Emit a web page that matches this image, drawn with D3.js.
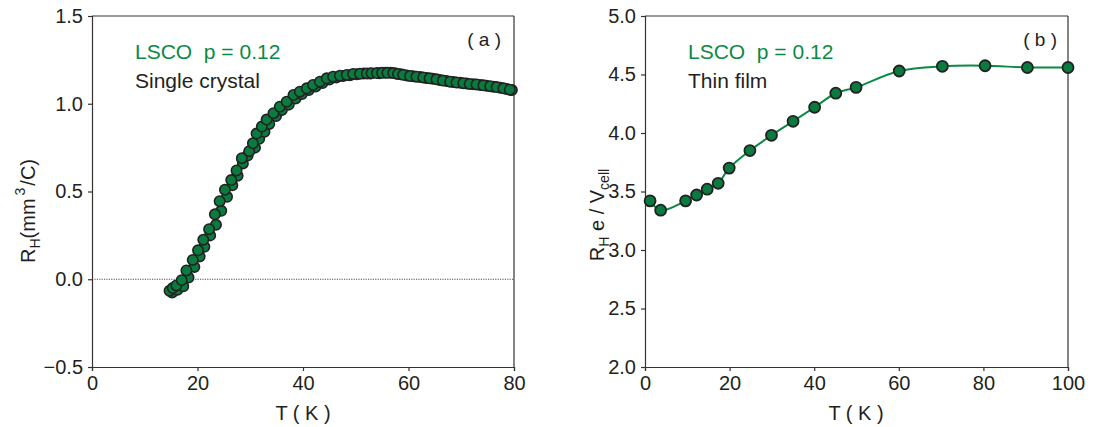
<!DOCTYPE html>
<html><head><meta charset="utf-8">
<script src="https://cdn.jsdelivr.net/npm/d3@7"></script>
<style>
body{margin:0;background:#fff;}
text{font-family:"Liberation Sans",Arial,sans-serif;fill:#231f20;}
</style></head><body>
<svg id="c" width="1094" height="427"></svg>
<script>
// Panel (a): single crystal, two overlapping sweeps
const tempA1 = [14.7,15.3,16.0,17.0,17.9,19.1,20.1,21.1,22.2,23.3,24.2,25.2,26.4,27.4,28.4,29.8,30.5,31.2,32.2,33.1,34.4,35.6,36.9,38.2,39.4,40.7,41.9,43.2,44.5,45.7,47.0,48.3,49.5,50.8,52.1,53.0,54.0,55.0,56.0,57.1,58.0,59.0,60.3,61.5,62.8,64.0,65.3,66.5,67.9,69.1,70.4,71.6,72.9,74.2,75.5,76.7,78.0,79.2];
const rhA1  = [-0.065,-0.05,-0.035,-0.005,0.05,0.11,0.165,0.225,0.285,0.37,0.445,0.51,0.565,0.62,0.69,0.73,0.775,0.83,0.87,0.91,0.946,0.983,1.012,1.05,1.069,1.088,1.107,1.126,1.145,1.154,1.16,1.164,1.17,1.171,1.173,1.174,1.175,1.176,1.176,1.175,1.17,1.165,1.158,1.154,1.15,1.145,1.139,1.132,1.126,1.121,1.117,1.113,1.11,1.105,1.10,1.095,1.088,1.08];
const tempA2 = [15.2,16.2,17.3,18.3,19.4,20.4,21.3,22.4,23.5,24.5,25.6,26.6,27.6,28.6,29.5,30.9,31.7,32.7,33.6,34.9,36.0,37.3,38.6,39.8,41.1,42.4,43.7,45.0,46.3,47.6,48.9,50.2,51.5,52.7,54.5,55.6,56.6,57.6,58.5,59.7,60.9,62.2,63.4,64.6,65.9,67.2,68.5,69.8,71.0,72.3,73.6,74.8,76.1,77.4,78.6,79.6];
const rhA2  = [-0.075,-0.06,-0.04,0.01,0.07,0.13,0.185,0.25,0.31,0.39,0.47,0.535,0.59,0.66,0.705,0.75,0.80,0.84,0.885,0.93,0.965,0.995,1.03,1.055,1.078,1.098,1.118,1.138,1.15,1.158,1.163,1.168,1.172,1.173,1.174,1.176,1.176,1.173,1.168,1.161,1.156,1.152,1.147,1.142,1.135,1.129,1.124,1.119,1.115,1.111,1.107,1.102,1.097,1.091,1.084,1.078];
const xTicksA = [0,20,40,60,80];
const yTicksA = [-0.5,0.0,0.5,1.0,1.5];

// Panel (b): thin film
const tempB = [1.2,3.7,9.6,12.2,14.7,17.3,19.9,24.8,29.9,35.0,40.1,45.1,49.9,60.1,70.3,80.4,90.4,100];
const rhB   = [3.42,3.34,3.42,3.47,3.52,3.57,3.70,3.85,3.98,4.10,4.22,4.34,4.39,4.53,4.57,4.575,4.56,4.56];
const xTicksB = [0,20,40,60,80,100];
const yTicksB = [2.0,2.5,3.0,3.5,4.0,4.5,5.0];

const GREEN = "#0b8a45", DOT = "#0a7b3e", EDGE = "#222";
const svg = d3.select("#c");
const plotTop = 16, plotBottom = 367;

function frame(g, x, y, xt, yt, yfmt){
  const ax = g.append("g").attr("transform",`translate(0,${plotBottom})`)
    .call(d3.axisBottom(x).tickValues(xt).tickSize(4).tickPadding(5).tickFormat(d3.format("d")));
  const ay = g.append("g").attr("transform",`translate(${x.range()[0]},0)`)
    .call(d3.axisLeft(y).tickValues(yt).tickSize(4).tickPadding(5).tickFormat(yfmt));
  [ax,ay].forEach(a=>{
    a.selectAll("path,line").attr("stroke","#333").attr("stroke-width",1.2);
    a.selectAll("text").style("font-size","20px").attr("fill","#231f20");
  });
  g.append("line").attr("x1",x.range()[0]).attr("x2",x.range()[1]).attr("y1",plotTop).attr("y2",plotTop).attr("stroke","#333").attr("stroke-width",1.2);
  g.append("line").attr("x1",x.range()[1]).attr("x2",x.range()[1]).attr("y1",plotTop).attr("y2",plotBottom).attr("stroke","#333").attr("stroke-width",1.2);
}
const minus = d => (d<0?"\u2212":"") + d3.format(".1f")(Math.abs(d));

// ---- Panel a
const xa = d3.scaleLinear().domain([0,80]).range([92,514]);
const ya = d3.scaleLinear().domain([-0.5,1.5]).range([plotBottom,plotTop]);
const ga = svg.append("g");
ga.append("line").attr("x1",xa(0)).attr("x2",xa(80)).attr("y1",ya(0)).attr("y2",ya(0))
  .attr("stroke","#222").attr("stroke-width",0.8).attr("stroke-dasharray","1.2,1.2");
frame(ga, xa, ya, xTicksA, yTicksA, minus);
const ptsA = tempA2.map((t,i)=>[t,rhA2[i]]).concat(tempA1.map((t,i)=>[t,rhA1[i]]));
ga.append("g").selectAll("circle").data(ptsA).join("circle")
  .attr("cx",d=>xa(d[0])).attr("cy",d=>ya(d[1])).attr("r",5.2)
  .attr("fill",DOT).attr("stroke",EDGE).attr("stroke-width",1.6);
ga.append("text").attr("x",135).attr("y",59).style("font-size","21px").style("fill",GREEN).text("LSCO\u00a0 p = 0.12");
ga.append("text").attr("x",135).attr("y",88).style("font-size","21px").text("Single crystal");
ga.append("text").attr("x",501).attr("y",46).attr("text-anchor","end").style("font-size","19px").text("( a )");
ga.append("text").attr("x",303).attr("y",420).attr("text-anchor","middle").style("font-size","20px").text("T ( K )");
const yla = ga.append("text").attr("transform","translate(35,211) rotate(-90)").attr("text-anchor","middle").style("font-size","20px");
yla.append("tspan").text("R");
yla.append("tspan").attr("dy",5).style("font-size","14px").text("H");
yla.append("tspan").attr("dy",-5).text("(mm");
yla.append("tspan").attr("dy",-10).attr("dx",3).style("font-size","14px").text("3");
yla.append("tspan").attr("dy",10).attr("dx",2).text("/C)");

// ---- Panel b
const xb = d3.scaleLinear().domain([0,100]).range([645,1068]);
const yb = d3.scaleLinear().domain([2,5]).range([plotBottom,plotTop]);
const gb = svg.append("g");
frame(gb, xb, yb, xTicksB, yTicksB, d3.format(".1f"));
const ptsB = tempB.map((t,i)=>[t,rhB[i]]);
gb.append("path").datum(ptsB)
  .attr("d", d3.line().x(d=>xb(d[0])).y(d=>yb(d[1])).curve(d3.curveCatmullRom))
  .attr("fill","none").attr("stroke",GREEN).attr("stroke-width",2);
gb.append("g").selectAll("circle").data(ptsB).join("circle")
  .attr("cx",d=>xb(d[0])).attr("cy",d=>yb(d[1])).attr("r",5.5)
  .attr("fill",DOT).attr("stroke",EDGE).attr("stroke-width",1.8);
gb.append("text").attr("x",688).attr("y",59).style("font-size","21px").style("fill",GREEN).text("LSCO\u00a0 p = 0.12");
gb.append("text").attr("x",688).attr("y",88).style("font-size","21px").text("Thin film");
gb.append("text").attr("x",1057).attr("y",46).attr("text-anchor","end").style("font-size","19px").text("( b )");
gb.append("text").attr("x",856).attr("y",420).attr("text-anchor","middle").style("font-size","20px").text("T ( K )");
const ylb = gb.append("text").attr("transform","translate(604,215) rotate(-90)").attr("text-anchor","middle").style("font-size","20px");
ylb.append("tspan").text("R");
ylb.append("tspan").attr("dy",5).style("font-size","14px").text("H");
ylb.append("tspan").attr("dy",-5).text(" e / V");
ylb.append("tspan").attr("dy",5).style("font-size","14px").text("cell");
</script></body></html>
